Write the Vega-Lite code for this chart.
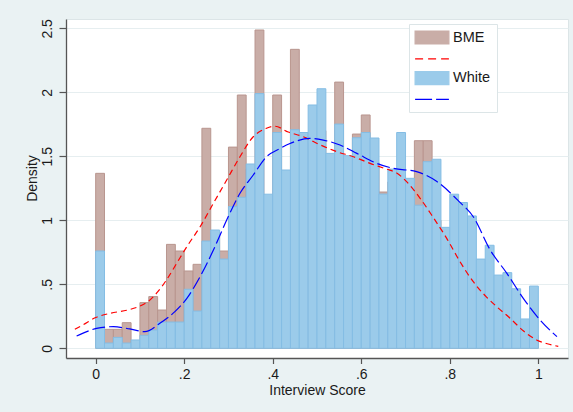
{
  "$schema": "https://vega.github.io/schema/vega-lite/v6.json",
  "width": 502,
  "height": 339,
  "autosize": {"type": "none"},
  "padding": {"left": 66, "top": 19, "right": 5, "bottom": 54},
  "background": "#EAF2F3",
  "config": {
    "font": "Liberation Sans",
    "view": {"fill": "white", "stroke": "#DCE5E7", "strokeWidth": 1},
    "axis": {
      "domainColor": "#555555",
      "domainWidth": 1.3,
      "tickColor": "#555555",
      "tickWidth": 1.2,
      "labelFont": "Liberation Sans",
      "labelFontSize": 14,
      "labelColor": "#1a1a1a",
      "titleFont": "Liberation Sans",
      "titleFontSize": 14,
      "titleFontWeight": "normal",
      "titleColor": "#1a1a1a",
      "labelFlush": false
    }
  },
  "data": {
    "values": [
      {"series": "BME", "score": 0.00, "score_end": 0.02, "density": 1.367},
      {"series": "BME", "score": 0.02, "score_end": 0.04, "density": 0.148},
      {"series": "BME", "score": 0.04, "score_end": 0.06, "density": 0.148},
      {"series": "BME", "score": 0.06, "score_end": 0.08, "density": 0.2},
      {"series": "BME", "score": 0.08, "score_end": 0.10, "density": 0.05},
      {"series": "BME", "score": 0.10, "score_end": 0.12, "density": 0.357},
      {"series": "BME", "score": 0.12, "score_end": 0.14, "density": 0.404},
      {"series": "BME", "score": 0.14, "score_end": 0.16, "density": 0.299},
      {"series": "BME", "score": 0.16, "score_end": 0.18, "density": 0.812},
      {"series": "BME", "score": 0.18, "score_end": 0.20, "density": 0.76},
      {"series": "BME", "score": 0.20, "score_end": 0.22, "density": 0.604},
      {"series": "BME", "score": 0.22, "score_end": 0.24, "density": 0.656},
      {"series": "BME", "score": 0.24, "score_end": 0.26, "density": 1.719},
      {"series": "BME", "score": 0.26, "score_end": 0.28, "density": 0.9},
      {"series": "BME", "score": 0.28, "score_end": 0.30, "density": 0.76},
      {"series": "BME", "score": 0.30, "score_end": 0.32, "density": 1.572},
      {"series": "BME", "score": 0.32, "score_end": 0.34, "density": 1.979},
      {"series": "BME", "score": 0.34, "score_end": 0.36, "density": 1.4},
      {"series": "BME", "score": 0.36, "score_end": 0.38, "density": 2.487},
      {"series": "BME", "score": 0.38, "score_end": 0.40, "density": 1.15},
      {"series": "BME", "score": 0.40, "score_end": 0.42, "density": 1.979},
      {"series": "BME", "score": 0.42, "score_end": 0.44, "density": 1.35},
      {"series": "BME", "score": 0.44, "score_end": 0.46, "density": 2.336},
      {"series": "BME", "score": 0.46, "score_end": 0.48, "density": 1.6},
      {"series": "BME", "score": 0.48, "score_end": 0.50, "density": 1.55},
      {"series": "BME", "score": 0.50, "score_end": 0.52, "density": 1.7},
      {"series": "BME", "score": 0.52, "score_end": 0.54, "density": 1.45},
      {"series": "BME", "score": 0.54, "score_end": 0.56, "density": 2.08},
      {"series": "BME", "score": 0.56, "score_end": 0.58, "density": 1.4},
      {"series": "BME", "score": 0.58, "score_end": 0.60, "density": 1.674},
      {"series": "BME", "score": 0.60, "score_end": 0.62, "density": 1.823},
      {"series": "BME", "score": 0.62, "score_end": 0.64, "density": 1.45},
      {"series": "BME", "score": 0.64, "score_end": 0.66, "density": 1.221},
      {"series": "BME", "score": 0.66, "score_end": 0.68, "density": 1.3},
      {"series": "BME", "score": 0.68, "score_end": 0.70, "density": 1.35},
      {"series": "BME", "score": 0.70, "score_end": 0.72, "density": 1.2},
      {"series": "BME", "score": 0.72, "score_end": 0.74, "density": 1.622},
      {"series": "BME", "score": 0.74, "score_end": 0.76, "density": 1.622},
      {"series": "BME", "score": 0.76, "score_end": 0.78, "density": 1.0},
      {"series": "BME", "score": 0.78, "score_end": 0.80, "density": 0.85},
      {"series": "BME", "score": 0.80, "score_end": 0.82, "density": 0.8},
      {"series": "BME", "score": 0.82, "score_end": 0.84, "density": 0.65},
      {"series": "BME", "score": 0.84, "score_end": 0.86, "density": 0.5},
      {"series": "BME", "score": 0.86, "score_end": 0.88, "density": 0.45},
      {"series": "BME", "score": 0.88, "score_end": 0.90, "density": 0.35},
      {"series": "BME", "score": 0.90, "score_end": 0.92, "density": 0.3},
      {"series": "BME", "score": 0.92, "score_end": 0.94, "density": 0.25},
      {"series": "BME", "score": 0.94, "score_end": 0.96, "density": 0.2},
      {"series": "BME", "score": 0.96, "score_end": 0.98, "density": 0.15},
      {"series": "BME", "score": 0.98, "score_end": 1.00, "density": 0.1},

      {"series": "White", "score": 0.00, "score_end": 0.02, "density": 0.76},
      {"series": "White", "score": 0.02, "score_end": 0.04, "density": 0.041},
      {"series": "White", "score": 0.04, "score_end": 0.06, "density": 0.085},
      {"series": "White", "score": 0.06, "score_end": 0.08, "density": 0.041},
      {"series": "White", "score": 0.08, "score_end": 0.10, "density": 0.065},
      {"series": "White", "score": 0.10, "score_end": 0.12, "density": 0.101},
      {"series": "White", "score": 0.12, "score_end": 0.14, "density": 0.143},
      {"series": "White", "score": 0.14, "score_end": 0.16, "density": 0.205},
      {"series": "White", "score": 0.16, "score_end": 0.18, "density": 0.205},
      {"series": "White", "score": 0.18, "score_end": 0.20, "density": 0.205},
      {"series": "White", "score": 0.20, "score_end": 0.22, "density": 0.461},
      {"series": "White", "score": 0.22, "score_end": 0.24, "density": 0.291},
      {"series": "White", "score": 0.24, "score_end": 0.26, "density": 0.838},
      {"series": "White", "score": 0.26, "score_end": 0.28, "density": 0.924},
      {"series": "White", "score": 0.28, "score_end": 0.30, "density": 0.697},
      {"series": "White", "score": 0.30, "score_end": 0.32, "density": 1.107},
      {"series": "White", "score": 0.32, "score_end": 0.34, "density": 1.18},
      {"series": "White", "score": 0.34, "score_end": 0.36, "density": 1.44},
      {"series": "White", "score": 0.36, "score_end": 0.38, "density": 1.99},
      {"series": "White", "score": 0.38, "score_end": 0.40, "density": 1.204},
      {"series": "White", "score": 0.40, "score_end": 0.42, "density": 1.686},
      {"series": "White", "score": 0.42, "score_end": 0.44, "density": 1.393},
      {"series": "White", "score": 0.44, "score_end": 0.46, "density": 1.708},
      {"series": "White", "score": 0.46, "score_end": 0.48, "density": 1.686},
      {"series": "White", "score": 0.48, "score_end": 0.50, "density": 1.901},
      {"series": "White", "score": 0.50, "score_end": 0.52, "density": 2.028},
      {"series": "White", "score": 0.52, "score_end": 0.54, "density": 1.523},
      {"series": "White", "score": 0.54, "score_end": 0.56, "density": 1.752},
      {"series": "White", "score": 0.56, "score_end": 0.58, "density": 1.505},
      {"series": "White", "score": 0.58, "score_end": 0.60, "density": 1.645},
      {"series": "White", "score": 0.60, "score_end": 0.62, "density": 1.686},
      {"series": "White", "score": 0.62, "score_end": 0.64, "density": 1.643},
      {"series": "White", "score": 0.64, "score_end": 0.66, "density": 1.205},
      {"series": "White", "score": 0.66, "score_end": 0.68, "density": 1.4},
      {"series": "White", "score": 0.68, "score_end": 0.70, "density": 1.686},
      {"series": "White", "score": 0.70, "score_end": 0.72, "density": 1.328},
      {"series": "White", "score": 0.72, "score_end": 0.74, "density": 1.118},
      {"series": "White", "score": 0.74, "score_end": 0.76, "density": 1.458},
      {"series": "White", "score": 0.76, "score_end": 0.78, "density": 1.477},
      {"series": "White", "score": 0.78, "score_end": 0.80, "density": 0.945},
      {"series": "White", "score": 0.80, "score_end": 0.82, "density": 1.204},
      {"series": "White", "score": 0.82, "score_end": 0.84, "density": 1.139},
      {"series": "White", "score": 0.84, "score_end": 0.86, "density": 1.034},
      {"series": "White", "score": 0.86, "score_end": 0.88, "density": 0.697},
      {"series": "White", "score": 0.88, "score_end": 0.90, "density": 0.805},
      {"series": "White", "score": 0.90, "score_end": 0.92, "density": 0.572},
      {"series": "White", "score": 0.92, "score_end": 0.94, "density": 0.591},
      {"series": "White", "score": 0.94, "score_end": 0.96, "density": 0.465},
      {"series": "White", "score": 0.96, "score_end": 0.98, "density": 0.229},
      {"series": "White", "score": 0.98, "score_end": 1.00, "density": 0.486},

      {"series": "BME density", "score": -0.047, "density": 0.148},
      {"series": "BME density", "score": -0.03, "density": 0.18},
      {"series": "BME density", "score": 0.0, "density": 0.24},
      {"series": "BME density", "score": 0.035, "density": 0.275},
      {"series": "BME density", "score": 0.07, "density": 0.297},
      {"series": "BME density", "score": 0.1, "density": 0.33},
      {"series": "BME density", "score": 0.12, "density": 0.37},
      {"series": "BME density", "score": 0.14, "density": 0.44},
      {"series": "BME density", "score": 0.16, "density": 0.534},
      {"series": "BME density", "score": 0.183, "density": 0.664},
      {"series": "BME density", "score": 0.206, "density": 0.794},
      {"series": "BME density", "score": 0.236, "density": 0.95},
      {"series": "BME density", "score": 0.266, "density": 1.133},
      {"series": "BME density", "score": 0.296, "density": 1.315},
      {"series": "BME density", "score": 0.326, "density": 1.497},
      {"series": "BME density", "score": 0.356, "density": 1.653},
      {"series": "BME density", "score": 0.386, "density": 1.719},
      {"series": "BME density", "score": 0.405, "density": 1.735},
      {"series": "BME density", "score": 0.435, "density": 1.69},
      {"series": "BME density", "score": 0.469, "density": 1.653},
      {"series": "BME density", "score": 0.507, "density": 1.59},
      {"series": "BME density", "score": 0.545, "density": 1.536},
      {"series": "BME density", "score": 0.582, "density": 1.497},
      {"series": "BME density", "score": 0.62, "density": 1.445},
      {"series": "BME density", "score": 0.657, "density": 1.4},
      {"series": "BME density", "score": 0.68, "density": 1.37},
      {"series": "BME density", "score": 0.703, "density": 1.3},
      {"series": "BME density", "score": 0.733, "density": 1.172},
      {"series": "BME density", "score": 0.763, "density": 1.02},
      {"series": "BME density", "score": 0.793, "density": 0.859},
      {"series": "BME density", "score": 0.823, "density": 0.677},
      {"series": "BME density", "score": 0.853, "density": 0.52},
      {"series": "BME density", "score": 0.883, "density": 0.4},
      {"series": "BME density", "score": 0.906, "density": 0.325},
      {"series": "BME density", "score": 0.936, "density": 0.235},
      {"series": "BME density", "score": 0.966, "density": 0.137},
      {"series": "BME density", "score": 0.996, "density": 0.065},
      {"series": "BME density", "score": 1.02, "density": 0.035},
      {"series": "BME density", "score": 1.045, "density": 0.015},

      {"series": "White density", "score": -0.043, "density": 0.096},
      {"series": "White density", "score": -0.02, "density": 0.13},
      {"series": "White density", "score": 0.002, "density": 0.156},
      {"series": "White density", "score": 0.04, "density": 0.169},
      {"series": "White density", "score": 0.077, "density": 0.151},
      {"series": "White density", "score": 0.111, "density": 0.13},
      {"series": "White density", "score": 0.145, "density": 0.195},
      {"series": "White density", "score": 0.179, "density": 0.286},
      {"series": "White density", "score": 0.206, "density": 0.39},
      {"series": "White density", "score": 0.236, "density": 0.56},
      {"series": "White density", "score": 0.266, "density": 0.768},
      {"series": "White density", "score": 0.296, "density": 1.002},
      {"series": "White density", "score": 0.326, "density": 1.211},
      {"series": "White density", "score": 0.356, "density": 1.354},
      {"series": "White density", "score": 0.386, "density": 1.497},
      {"series": "White density", "score": 0.416, "density": 1.56},
      {"series": "White density", "score": 0.439, "density": 1.6},
      {"series": "White density", "score": 0.484, "density": 1.64},
      {"series": "White density", "score": 0.514, "density": 1.627},
      {"series": "White density", "score": 0.552, "density": 1.588},
      {"series": "White density", "score": 0.59, "density": 1.523},
      {"series": "White density", "score": 0.635, "density": 1.445},
      {"series": "White density", "score": 0.672, "density": 1.406},
      {"series": "White density", "score": 0.725, "density": 1.38},
      {"series": "White density", "score": 0.77, "density": 1.305},
      {"series": "White density", "score": 0.82, "density": 1.15},
      {"series": "White density", "score": 0.853, "density": 1.028},
      {"series": "White density", "score": 0.891, "density": 0.77},
      {"series": "White density", "score": 0.929, "density": 0.585},
      {"series": "White density", "score": 0.966, "density": 0.39},
      {"series": "White density", "score": 1.004, "density": 0.221},
      {"series": "White density", "score": 1.042, "density": 0.091}
    ]
  },
  "encoding": {
    "x": {
      "field": "score",
      "type": "quantitative",
      "title": "Interview Score",
      "scale": {"domain": [-0.067, 1.067], "nice": false, "zero": false},
      "axis": {
        "values": [0, 0.2, 0.4, 0.6, 0.8, 1],
        "labelExpr": "replace(format(datum.value, '~g'), '0.', '.')",
        "grid": false,
        "tickSize": 5.5,
        "labelPadding": 4,
        "titlePadding": 2
      }
    },
    "y": {
      "field": "density",
      "type": "quantitative",
      "title": "Density",
      "scale": {"domain": [-0.076, 2.573], "nice": false, "zero": false},
      "axis": {
        "values": [0, 0.5, 1, 1.5, 2, 2.5],
        "labelExpr": "replace(format(datum.value, '~g'), '0.', '.')",
        "grid": true,
        "gridColor": "#E6EEF0",
        "gridWidth": 1.2,
        "tickSize": 7,
        "labelAngle": 270,
        "labelAlign": "center",
        "labelBaseline": "alphabetic",
        "labelPadding": 7.5,
        "titleAngle": 270,
        "titleAlign": "center",
        "titleBaseline": "alphabetic",
        "titleX": -29.5,
        "titleY": 159
      }
    },
    "color": {
      "field": "series",
      "type": "nominal",
      "scale": {
        "domain": ["BME", "BME density", "White", "White density"],
        "range": ["#C9ADA7", "#FF0000", "#9BCBEA", "#0000FF"]
      },
      "legend": {
        "title": null,
        "orient": "none",
        "legendX": 343,
        "legendY": 5,
        "padding": 6,
        "fillColor": "white",
        "strokeColor": "#DCE5E7",
        "symbolSize": 169,
        "symbolOffset": 9.5,
        "labelOffset": 13.5,
        "rowPadding": 3.3,
        "labelFont": "Liberation Sans",
        "labelFontSize": 14.5,
        "labelColor": "#1a1a1a",
        "labelLimit": 300,
        "labelExpr": "datum.value === 'White' ? 'White\u00a0\u00a0\u00a0\u00a0\u00a0\u00a0\u00a0\u00a0\u00a0\u00a0\u00a0\u00a0\u00a0\u00a0\u00a0\u00a0\u00a0\u00a0' : datum.value === 'BME' ? 'BME' : '\u00a0'",
        "encode": {
          "symbols": {
            "update": {
              "shape": {"signal": "datum.value === 'BME' || datum.value === 'White' ? 'M-2.6,-1H2.6V1H-2.6Z' : 'M-2.6,0H2.6'"},
              "fill": {"signal": "datum.value === 'BME' ? '#C9ADA7' : datum.value === 'White' ? '#9BCBEA' : 'transparent'"},
              "stroke": {"signal": "datum.value === 'BME' ? '#B9968F' : datum.value === 'White' ? '#84BDE4' : datum.value === 'BME density' ? '#FF0000' : '#0000FF'"},
              "strokeDash": {"signal": "datum.value === 'BME density' ? [8, 5] : datum.value === 'White density' ? [17, 4] : [1, 0]"},
              "strokeWidth": {"value": 1.2},
              "opacity": {"value": 1}
            }
          }
        }
      }
    }
  },
  "layer": [
    {
      "transform": [{"filter": "datum.series === 'BME'"}],
      "mark": {"type": "bar", "stroke": "#B9968F", "strokeWidth": 1},
      "encoding": {"x2": {"field": "score_end"}, "y2": {"datum": 0}}
    },
    {
      "transform": [{"filter": "datum.series === 'White'"}],
      "mark": {"type": "bar", "stroke": "#84BDE4", "strokeWidth": 1},
      "encoding": {"x2": {"field": "score_end"}, "y2": {"datum": 0}}
    },
    {
      "transform": [{"filter": "datum.series === 'BME density'"}],
      "mark": {"type": "line", "strokeDash": [6, 4], "strokeWidth": 1.2, "interpolate": "monotone"},
      "encoding": {}
    },
    {
      "transform": [{"filter": "datum.series === 'White density'"}],
      "mark": {"type": "line", "strokeDash": [13, 4], "strokeWidth": 1.2, "interpolate": "monotone"},
      "encoding": {}
    }
  ]
}
